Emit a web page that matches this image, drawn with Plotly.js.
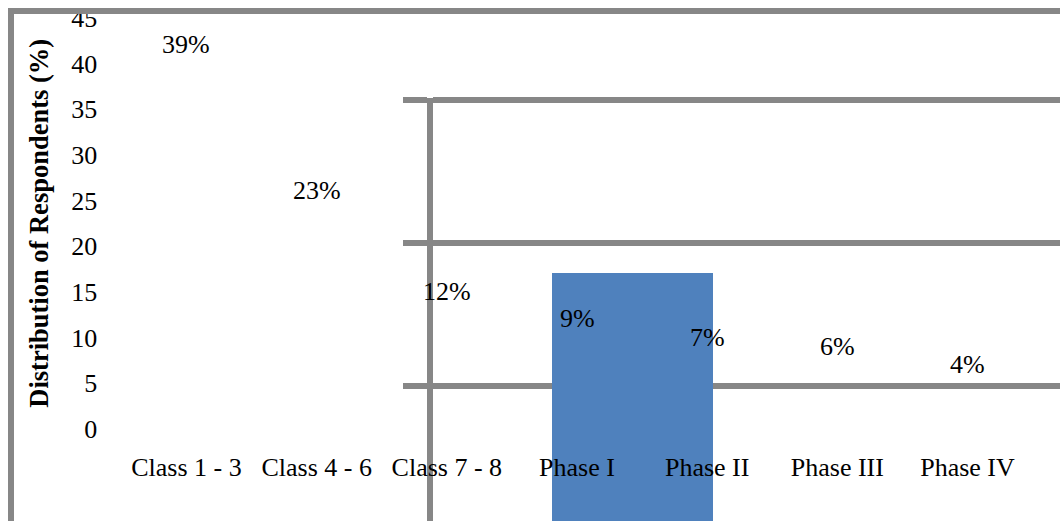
<!DOCTYPE html>
<html>
<head>
<meta charset="utf-8">
<script src="https://cdn.plot.ly/plotly-3.0.1.min.js"></script>
<style>
  html, body { margin: 0; padding: 0; background: #ffffff; }
  #chart { width: 1060px; height: 521px; }
</style>
</head>
<body>
<div id="chart"></div>
<script>
// Respondents by class / phase (percent)
const categories = ["Class 1 - 3", "Class 4 - 6", "Class 7 - 8", "Phase I", "Phase II", "Phase III", "Phase IV"];
const values = [39, 23, 12, 9, 7, 6, 4];
const yTickValues = [0, 5, 10, 15, 20, 25, 30, 35, 40, 45];

// Background panel: one filled bar on its own gridded axes
const panelX = [1.23];
const panelY = [17.9];
const panelGrid = [10, 20, 30];

const GRAY = "#878787";
const FONT = "'Liberation Serif', 'Times New Roman', serif";

const panelBar = {
  type: "bar",
  x: panelX,
  y: panelY,
  width: [1],
  xaxis: "x",
  yaxis: "y",
  marker: { color: "#4f81bd", line: { width: 0 } },
  hoverinfo: "skip"
};

const mainBars = {
  type: "bar",
  x: categories,
  y: values,
  xaxis: "x2",
  yaxis: "y2",
  marker: { color: "rgba(255,255,255,0)", line: { width: 0 } },
  hoverinfo: "skip"
};

const labels = categories.map((c, i) => ({
  x: c,
  y: values[i],
  xref: "x2",
  yref: "y2",
  text: values[i] + "%",
  showarrow: false,
  yanchor: "middle",
  yshift: 28,
  font: { family: FONT, size: 26, color: "#000000" }
}));

const layout = {
  width: 1060,
  height: 521,
  margin: { l: 0, r: 0, t: 0, b: 0 },
  paper_bgcolor: "#ffffff",
  plot_bgcolor: "rgba(0,0,0,0)",
  showlegend: false,
  font: { family: FONT, size: 26, color: "#000000" },
  bargap: 0,
  xaxis: {
    domain: [0.40896, 1],
    range: [0, 3.874],
    anchor: "y",
    showgrid: false,
    zeroline: false,
    showline: false,
    ticks: "",
    showticklabels: false,
    fixedrange: true
  },
  yaxis: {
    domain: [0, 0.81190],
    range: [0.559, 30.14],
    anchor: "x",
    tickvals: panelGrid,
    showgrid: true,
    gridcolor: GRAY,
    gridwidth: 6,
    zeroline: false,
    showline: true,
    linecolor: GRAY,
    linewidth: 6,
    ticks: "outside",
    ticklen: 24,
    tickwidth: 6,
    tickcolor: GRAY,
    showticklabels: false,
    fixedrange: true
  },
  xaxis2: {
    domain: [0.11453, 0.97415],
    range: [-0.5, 6.5],
    anchor: "y2",
    type: "category",
    showgrid: false,
    zeroline: false,
    showline: false,
    ticks: "outside",
    ticklen: 15,
    tickcolor: "rgba(0,0,0,0)",
    tickfont: { family: FONT, size: 26, color: "#000000" },
    fixedrange: true
  },
  yaxis2: {
    domain: [0.17658, 0.96603],
    range: [0, 45],
    anchor: "x2",
    tickvals: yTickValues,
    ticktext: yTickValues.map(String),
    showgrid: false,
    zeroline: false,
    showline: false,
    ticks: "outside",
    ticklen: 18,
    tickcolor: "rgba(0,0,0,0)",
    tickfont: { family: FONT, size: 26, color: "#000000" },
    title: {
      text: "<b>Distribution of Respondents (%)</b>",
      font: { family: FONT, size: 26.5, color: "#000000" },
      standoff: 14
    },
    fixedrange: true
  },
  annotations: labels,
  shapes: [
    // outer frame: top and left edges
    {
      type: "line", xref: "paper", yref: "paper", layer: "above",
      x0: 8 / 1060, x1: 1.01, y0: 1 - 11 / 521, y1: 1 - 11 / 521,
      line: { color: GRAY, width: 6 }
    },
    {
      type: "line", xref: "paper", yref: "paper", layer: "above",
      x0: 11 / 1060, x1: 11 / 1060, y0: 1 - 8 / 521, y1: -0.02,
      line: { color: GRAY, width: 6 }
    }
  ]
};

Plotly.newPlot("chart", [panelBar, mainBars], layout, { displayModeBar: false, staticPlot: true });
</script>
</body>
</html>
